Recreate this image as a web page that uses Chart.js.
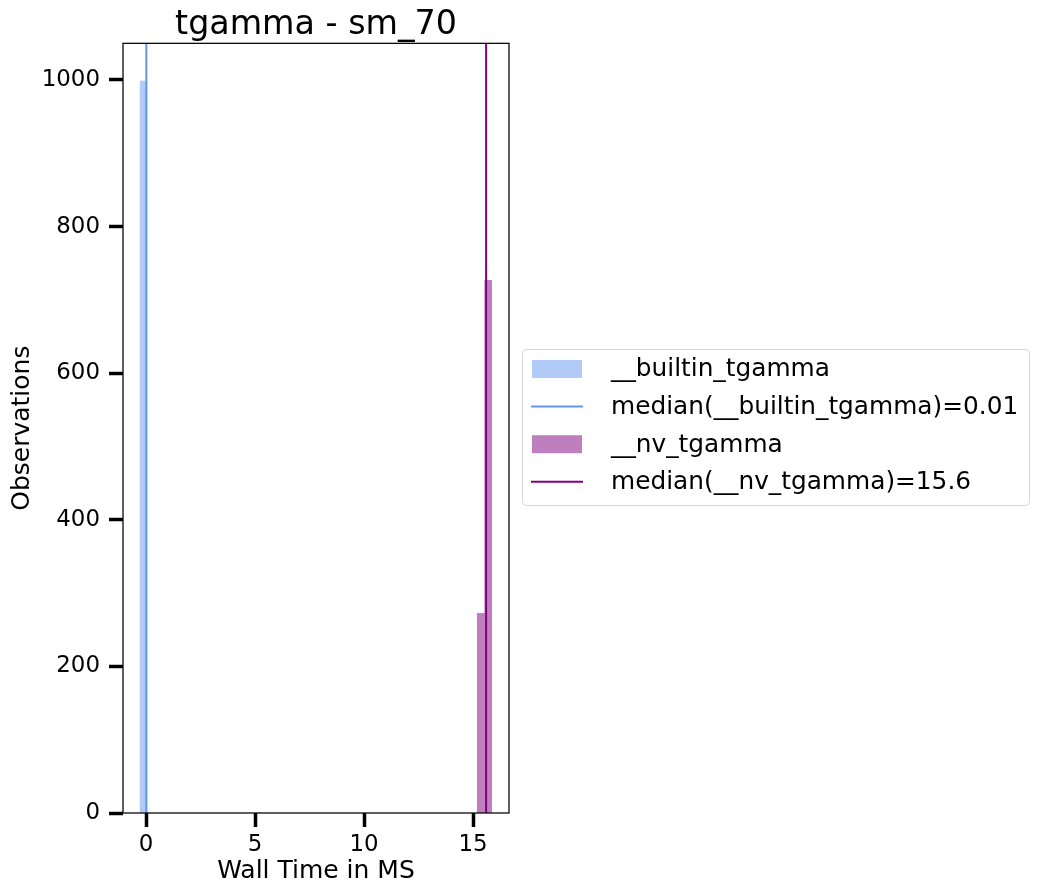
<!DOCTYPE html>
<html>
<head>
<meta charset="utf-8">
<script src="https://cdn.jsdelivr.net/npm/chart.js@4.4.1/dist/chart.umd.min.js"></script>
<style>
  html, body { margin: 0; padding: 0; background: #fff; }
  #chart { display: block; }
</style>
</head>
<body>
<canvas id="chart" width="1040" height="895"></canvas>
<script>
// Histogram bins: left edge, right edge, count
const builtinBinLeft = [-0.3, 4.97];
const builtinBinRight = [0.05, 5.32];
const builtinCounts = [999, 1];
const nvBinLeft = [15.17, 15.52];
const nvBinRight = [15.52, 15.87];
const nvCounts = [273, 727];

const builtinMedian = 0.01;
const nvMedian = 15.6;

const xTicks = [0, 5, 10, 15];
const yTicks = [0, 200, 400, 600, 800, 1000];
const xRange = [-1.06, 16.65];
const yRange = [0, 1050];

const seriesLabels = [
  '__builtin_tgamma',
  'median(__builtin_tgamma)=0.01',
  '__nv_tgamma',
  'median(__nv_tgamma)=15.6'
];

const FONT = '"DejaVu Sans", sans-serif';

// Turn bins into a closed step outline that the filler can shade
function histPoints(lefts, rights, counts) {
  const pts = [];
  lefts.forEach(function(l, i) {
    pts.push({x: l, y: 0}, {x: l, y: counts[i]}, {x: rights[i], y: counts[i]}, {x: rights[i], y: 0});
  });
  return pts;
}

function medianPoints(v) {
  return [{x: v, y: yRange[0]}, {x: v, y: yRange[1]}];
}

// Black box round the plot area, like matplotlib spines
const frame = {
  id: 'frame',
  afterDraw(chart) {
    const a = chart.chartArea, ctx = chart.ctx;
    ctx.save();
    ctx.strokeStyle = '#000';
    ctx.lineWidth = 1.25;
    ctx.strokeRect(a.left, a.top, a.right - a.left, a.bottom - a.top);
    ctx.restore();
  }
};

// Legend outside the axes, on the right
const sideLegend = {
  id: 'sideLegend',
  afterDraw(chart) {
    const ctx = chart.ctx;
    const bx = 522.5, by = 349.5, bw = 507, bh = 156;
    ctx.save();
    ctx.beginPath();
    ctx.roundRect(bx, by, bw, bh, 4);
    ctx.fillStyle = 'rgba(255,255,255,0.8)';
    ctx.fill();
    ctx.strokeStyle = '#d6d6d6';
    ctx.lineWidth = 1;
    ctx.stroke();

    ctx.font = '24.8px ' + FONT;
    ctx.textBaseline = 'middle';
    chart.data.datasets.forEach(function(ds, i) {
      const cy = 369 + i * 37.6;
      if (ds.legendKind === 'patch') {
        ctx.fillStyle = ds.backgroundColor;
        ctx.fillRect(532, cy - 9, 50, 18);
      } else {
        ctx.strokeStyle = ds.borderColor;
        ctx.lineWidth = 2;
        ctx.beginPath();
        ctx.moveTo(531, cy);
        ctx.lineTo(583, cy);
        ctx.stroke();
      }
      ctx.fillStyle = '#000';
      ctx.fillText(ds.label, 611, cy + 1);
    });
    ctx.restore();
  }
};

Chart.defaults.font.family = FONT;
Chart.defaults.color = '#000';

new Chart(document.getElementById('chart').getContext('2d'), {
  type: 'line',
  data: {
    datasets: [{
      label: seriesLabels[0],
      legendKind: 'patch',
      data: histPoints(builtinBinLeft, builtinBinRight, builtinCounts),
      backgroundColor: 'rgba(100,149,237,0.5)',
      borderWidth: 0,
      fill: 'origin',
      order: 4
    }, {
      label: seriesLabels[1],
      legendKind: 'line',
      data: medianPoints(builtinMedian),
      borderColor: '#6495ED',
      borderWidth: 2,
      fill: false,
      order: 3
    }, {
      label: seriesLabels[2],
      legendKind: 'patch',
      data: histPoints(nvBinLeft, nvBinRight, nvCounts),
      backgroundColor: 'rgba(128,0,128,0.5)',
      borderWidth: 0,
      fill: 'origin',
      order: 2
    }, {
      label: seriesLabels[3],
      legendKind: 'line',
      data: medianPoints(nvMedian),
      borderColor: '#800080',
      borderWidth: 2,
      fill: false,
      order: 1
    }]
  },
  options: {
    responsive: false,
    animation: false,
    devicePixelRatio: 1,
    elements: {
      point: { radius: 0, hoverRadius: 0 },
      line: { tension: 0, borderCapStyle: 'butt' }
    },
    layout: {
      padding: { left: 0, right: 531, top: 0, bottom: 0 }
    },
    plugins: {
      legend: { display: false },
      tooltip: { enabled: false },
      title: {
        display: true,
        fullSize: false,
        text: 'tgamma - sm_70',
        font: { size: 33.3, weight: 'normal', lineHeight: 1.1 },
        padding: { top: 6.7, bottom: 0 },
        color: '#000'
      }
    },
    scales: {
      x: {
        type: 'linear',
        min: xRange[0],
        max: xRange[1],
        afterBuildTicks: function(scale) {
          scale.ticks = xTicks.map(function(v) { return {value: v}; });
        },
        afterFit: function(scale) { scale.height = 82; },
        ticks: {
          font: { size: 22.9 },
          padding: 4,
          maxRotation: 0,
          autoSkip: false,
          callback: function(v) { return String(v); }
        },
        grid: {
          drawOnChartArea: false,
          drawTicks: true,
          tickLength: 14,
          tickWidth: 3.5,
          tickColor: '#000'
        },
        border: { display: false },
        title: {
          display: true,
          text: 'Wall Time in MS',
          font: { size: 25 },
          padding: 9
        }
      },
      y: {
        type: 'linear',
        min: yRange[0],
        max: yRange[1],
        afterBuildTicks: function(scale) {
          scale.ticks = yTicks.map(function(v) { return {value: v}; });
        },
        afterFit: function(scale) { scale.width = 123; },
        ticks: {
          font: { size: 22.9 },
          padding: 9,
          callback: function(v) { return String(v); }
        },
        grid: {
          drawOnChartArea: false,
          drawTicks: true,
          tickLength: 14,
          tickWidth: 3.5,
          tickColor: '#000'
        },
        border: { display: false },
        title: {
          display: true,
          text: 'Observations',
          font: { size: 25 },
          padding: 7
        }
      }
    }
  },
  plugins: [frame, sideLegend]
});
</script>
</body>
</html>
